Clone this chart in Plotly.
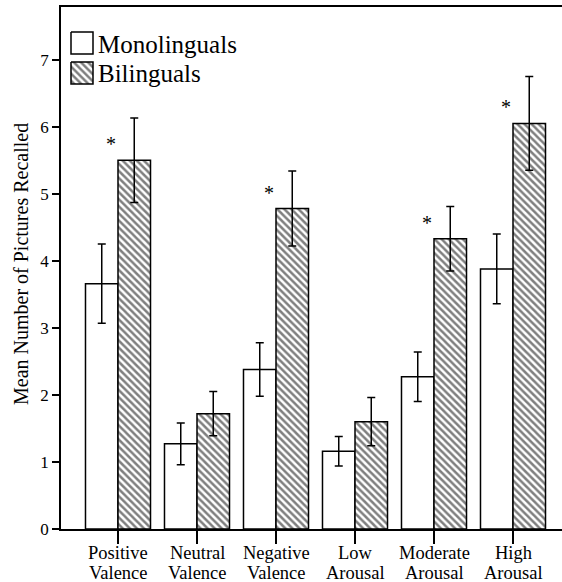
import plotly.graph_objects as go

# ---- data ----
categories = ["Positive Valence", "Neutral Valence", "Negative Valence",
              "Low Arousal", "Moderate Arousal", "High Arousal"]
mono_means = [3.66, 1.27, 2.38, 1.16, 2.27, 3.88]
mono_err = [0.59, 0.31, 0.40, 0.22, 0.37, 0.52]
bili_means = [5.50, 1.72, 4.78, 1.60, 4.33, 6.05]
bili_err = [0.63, 0.33, 0.56, 0.36, 0.48, 0.70]
significant = [True, False, True, False, True, True]
y_ticks = [0, 1, 2, 3, 4, 5, 6, 7]
legend_names = ["Monolinguals", "Bilinguals"]
y_title = "Mean Number of Pictures Recalled"

# ---- layout constants ----
W, H = 562, 582
ML, MR, MT, MB = 61, 0, 7, 53
PW, PH = W - ML - MR, H - MT - MB
FONT = "Liberation Serif, DejaVu Serif, serif"
idx = list(range(len(categories)))
PATTERN = dict(shape="\\", fgcolor="black", bgcolor="white",
               size=5, solidity=0.5, fillmode="overlay")


def px_to_paper_y(py):
    return (MT + PH - py) / PH


def px_to_paper_x(px):
    return (px - ML) / PW


fig = go.Figure()

err_style = dict(type="data", color="black", thickness=1.5, width=4)

fig.add_trace(go.Bar(
    x=idx, y=mono_means, name=legend_names[0],
    marker=dict(color="white", line=dict(color="black", width=1.5)),
    error_y=dict(array=mono_err, **err_style),
    showlegend=False,
))
fig.add_trace(go.Bar(
    x=idx, y=bili_means, name=legend_names[1],
    marker=dict(color="white", line=dict(color="black", width=1.5),
                pattern=PATTERN),
    error_y=dict(array=bili_err, **err_style),
    showlegend=False,
))

# custom legend boxes drawn on a pixel-space overlay axis
box_specs = [
    (71, 93, 32, 54, False),
    (71, 93, 62, 84, True),
]
for (x0, x1, y0, y1, pat) in box_specs:
    kw = dict(
        x=[x0, x1, x1, x0, x0], y=[y0, y0, y1, y1, y0],
        xaxis="x2", yaxis="y2", mode="lines", fill="toself",
        line=dict(color="black", width=1.5), fillcolor="white",
        hoverinfo="skip", showlegend=False,
    )
    if pat:
        kw["fillpattern"] = PATTERN
    fig.add_trace(go.Scatter(**kw))

annotations = []
# legend labels
for name, cy in zip(legend_names, [45, 74]):
    annotations.append(dict(
        x=px_to_paper_x(96), y=px_to_paper_y(cy), xref="paper", yref="paper",
        text=name, showarrow=False, xanchor="left", yanchor="middle",
        font=dict(family=FONT, size=25, color="black"),
    ))

# category labels (two tight lines)
for i, cat in enumerate(categories):
    l1, l2 = cat.split(" ")
    for txt, cy in [(l1, 552.5), (l2, 572.5)]:
        annotations.append(dict(
            x=i, y=px_to_paper_y(cy), xref="x", yref="paper",
            text=txt, showarrow=False, xanchor="center", yanchor="middle",
            font=dict(family=FONT, size=18.5, color="black"),
        ))

# significance asterisks
for i, sig in enumerate(significant):
    if sig:
        annotations.append(dict(
            x=i - 0.085, y=bili_means[i], xref="x", yref="y",
            text="*", showarrow=False, xanchor="center", yanchor="middle",
            yshift=16,
            font=dict(family=FONT, size=20, color="black"),
        ))

# y-axis title
annotations.append(dict(
    x=px_to_paper_x(21), y=px_to_paper_y(264), xref="paper", yref="paper",
    text=y_title, showarrow=False, textangle=-90,
    xanchor="center", yanchor="middle",
    font=dict(family=FONT, size=20, color="black"),
))

y_top = PH / 67.04

fig.update_layout(
    width=W, height=H,
    margin=dict(l=ML, r=MR, t=MT, b=MB, pad=0),
    paper_bgcolor="white", plot_bgcolor="white",
    barmode="group", bargap=0.177, bargroupgap=0,
    font=dict(family=FONT, color="black"),
    xaxis=dict(
        range=[-(118 - ML) / 79, (W - MR - 118) / 79],
        tickvals=idx, showticklabels=False,
        ticks="outside", ticklen=13, tickwidth=1.5, tickcolor="black",
        showline=True, linecolor="black", linewidth=1.5, mirror=True,
        showgrid=False, zeroline=False, fixedrange=True,
    ),
    yaxis=dict(
        range=[0, y_top], tickvals=y_ticks,
        ticks="outside", ticklen=7, tickwidth=1.5, tickcolor="black",
        tickfont=dict(family=FONT, size=17, color="black"),
        showline=True, linecolor="black", linewidth=1.5,
        showgrid=False, zeroline=False, fixedrange=True,
    ),
    xaxis2=dict(overlaying="x", range=[ML, W - MR], visible=False,
                fixedrange=True),
    yaxis2=dict(overlaying="y", range=[MT + PH, MT], visible=False,
                fixedrange=True),
    annotations=annotations,
    showlegend=False,
)

fig.write_html(
    "out.html",
    config={"displayModeBar": False},
    post_script="document.body.style.margin='0';document.body.style.overflow='hidden';",
)
